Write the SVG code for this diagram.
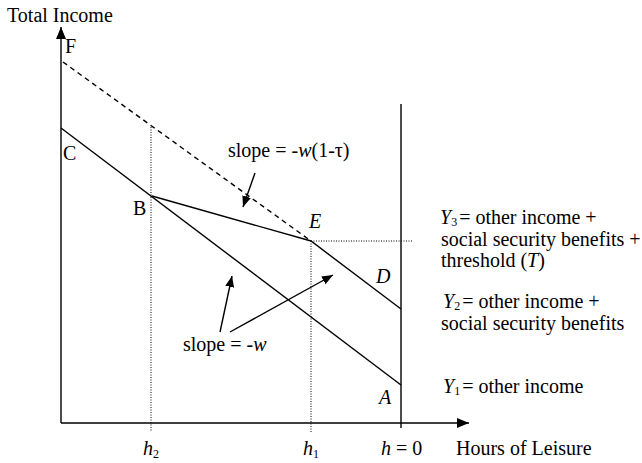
<svg xmlns="http://www.w3.org/2000/svg" width="642" height="463" viewBox="0 0 642 463">
<style>
text{font-family:"Liberation Serif","Times New Roman",serif;font-size:20px;fill:#000}
.it{font-style:italic}
.sub{font-size:12px;font-style:normal}
.ln{stroke:#000;stroke-width:1.4;fill:none}
.dash{stroke:#000;stroke-width:1.4;fill:none;stroke-dasharray:5 4}
.dot{stroke:#000;stroke-width:1;fill:none;stroke-dasharray:1 1.5}
</style>
<defs>
<marker id="big" viewBox="0 0 12 10" refX="12" refY="5" markerWidth="12" markerHeight="10" orient="auto" markerUnits="userSpaceOnUse"><path d="M0,0 L12,5 L0,10 z" fill="#000"/></marker>
<marker id="ah" viewBox="0 0 11 9" refX="11" refY="4.5" markerWidth="11" markerHeight="9" orient="auto" markerUnits="userSpaceOnUse"><path d="M0,0 L11,4.5 L0,9 z" fill="#000"/></marker>
</defs>
<rect width="642" height="463" fill="#fff"/>
<g id="connectors">
<line class="ln" x1="61" y1="423" x2="61" y2="27" marker-end="url(#big)"/>
<line class="ln" x1="61" y1="423" x2="469" y2="423" marker-end="url(#big)"/>
<line class="ln" x1="401" y1="104" x2="401" y2="428"/>
<line class="dot" x1="151" y1="127" x2="151" y2="432"/>
<line class="dot" x1="311" y1="241" x2="311" y2="432"/>
<line class="dot" x1="311" y1="241" x2="412" y2="241"/>
<line class="dash" x1="63" y1="62" x2="311" y2="241"/>
<line class="ln" x1="61" y1="128" x2="401" y2="385"/>
<polyline class="ln" points="152,196 311,241 401,309"/>
<line class="ln" x1="255" y1="173" x2="243" y2="207" marker-end="url(#ah)"/>
<line class="ln" x1="220" y1="332" x2="232" y2="276" marker-end="url(#ah)"/>
<line class="ln" x1="230" y1="332" x2="333" y2="275" marker-end="url(#ah)"/>
</g>
<g id="axis-labels">
<text x="7" y="22">Total Income</text>
<text x="456" y="455">Hours of Leisure</text>
<text x="143" y="455"><tspan class="it">h</tspan><tspan class="sub" dy="3">2</tspan></text>
<text x="303" y="455"><tspan class="it">h</tspan><tspan class="sub" dy="3">1</tspan></text>
<text x="381" y="455"><tspan class="it">h</tspan> = 0</text>
</g>
<g id="point-labels">
<text x="65" y="53">F</text>
<text x="63" y="160">C</text>
<text x="133" y="215">B</text>
<text x="309" y="228" class="it">E</text>
<text x="376" y="283" class="it">D</text>
<text x="379" y="404" class="it">A</text>
</g>
<g id="slope-labels">
<text x="228" y="157">slope = -<tspan class="it">w</tspan>(1-τ)</text>
<text x="183" y="351">slope = -<tspan class="it">w</tspan></text>
</g>
<g id="income-labels">
<text x="440" y="224"><tspan class="it">Y</tspan><tspan class="sub" dy="2">3</tspan><tspan dx="2" dy="-2">= other income +</tspan></text>
<text x="441" y="246">social security benefits +</text>
<text x="441" y="267">threshold (<tspan class="it">T</tspan>)</text>
<text x="443" y="308"><tspan class="it">Y</tspan><tspan class="sub" dy="2">2</tspan><tspan dx="2" dy="-2">= other income +</tspan></text>
<text x="441" y="330">social security benefits</text>
<text x="443" y="393"><tspan class="it">Y</tspan><tspan class="sub" dy="2">1</tspan><tspan dx="2" dy="-2">= other income</tspan></text>
</g>
</svg>
